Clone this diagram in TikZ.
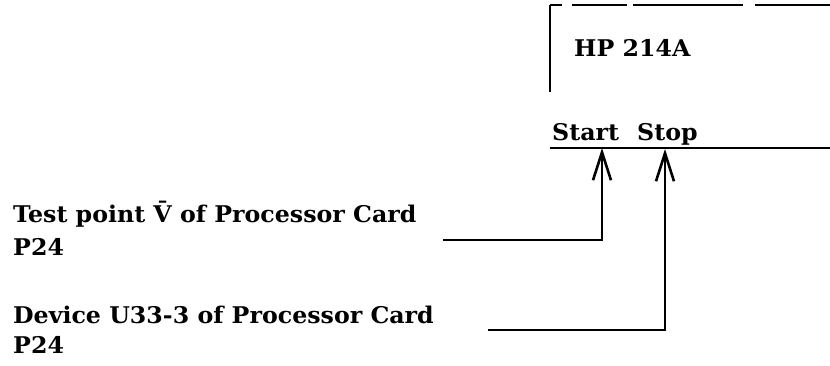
\documentclass[tikz,border=0pt]{standalone}
\usepackage{fontspec}
\usetikzlibrary{arrows.meta}
\newfontfamily\reffont[FakeStretch=1.03]{DejaVu Serif}
\begin{document}
\begin{tikzpicture}[x=1pt,y=-1pt,
  lbl/.style={anchor=base west,inner sep=0pt,font=\reffont\fontsize{23}{27}\selectfont\bfseries},
  wire/.style={line width=2.2pt},
  arr/.style={wire,-{Straight Barb[length=28pt,width=18pt,line width=2.6pt]}}]
\useasboundingbox (0,0) rectangle (830,366);
% HP 214A box (cut off at the right)
\coordinate (boxtl) at (550,5);
\coordinate (boxtr) at (830,5);
\coordinate (boxbl) at (550,92);
\draw[line width=1.5pt, dash pattern=on 12pt off 10pt on 55pt off 6pt on 110pt off 12pt on 80pt off 4pt] (boxtl) -- (boxtr);
\draw[line width=1.6pt] (boxtl) -- (boxbl);
\node[lbl] (hp) at (574,57) {HP 214A};
% Start / Stop bus
\node[lbl] (start) at (552,141) {Start};
\node[lbl] (stop) at (637,141) {Stop};
\coordinate (busl) at (550,148);
\coordinate (busr) at (830,148);
\draw[wire] (busl) -- (busr);
\coordinate (starttip) at (602,148);
\coordinate (stoptip) at (665,149);
% sources
\node[lbl] (tp) at (13,223) {Test point V̄ of Processor Card};
\node[lbl] (tp2) at (13,255) {P24};
\node[lbl] (dev) at (13,323) {Device U33-3 of Processor Card};
\node[lbl] (dev2) at (13,353) {P24};
\coordinate (tpend) at (443,240);
\coordinate (devend) at (488,330);
\draw[arr] (tpend) -| (starttip);
\draw[arr] (devend) -| (stoptip);
\end{tikzpicture}
\end{document}
